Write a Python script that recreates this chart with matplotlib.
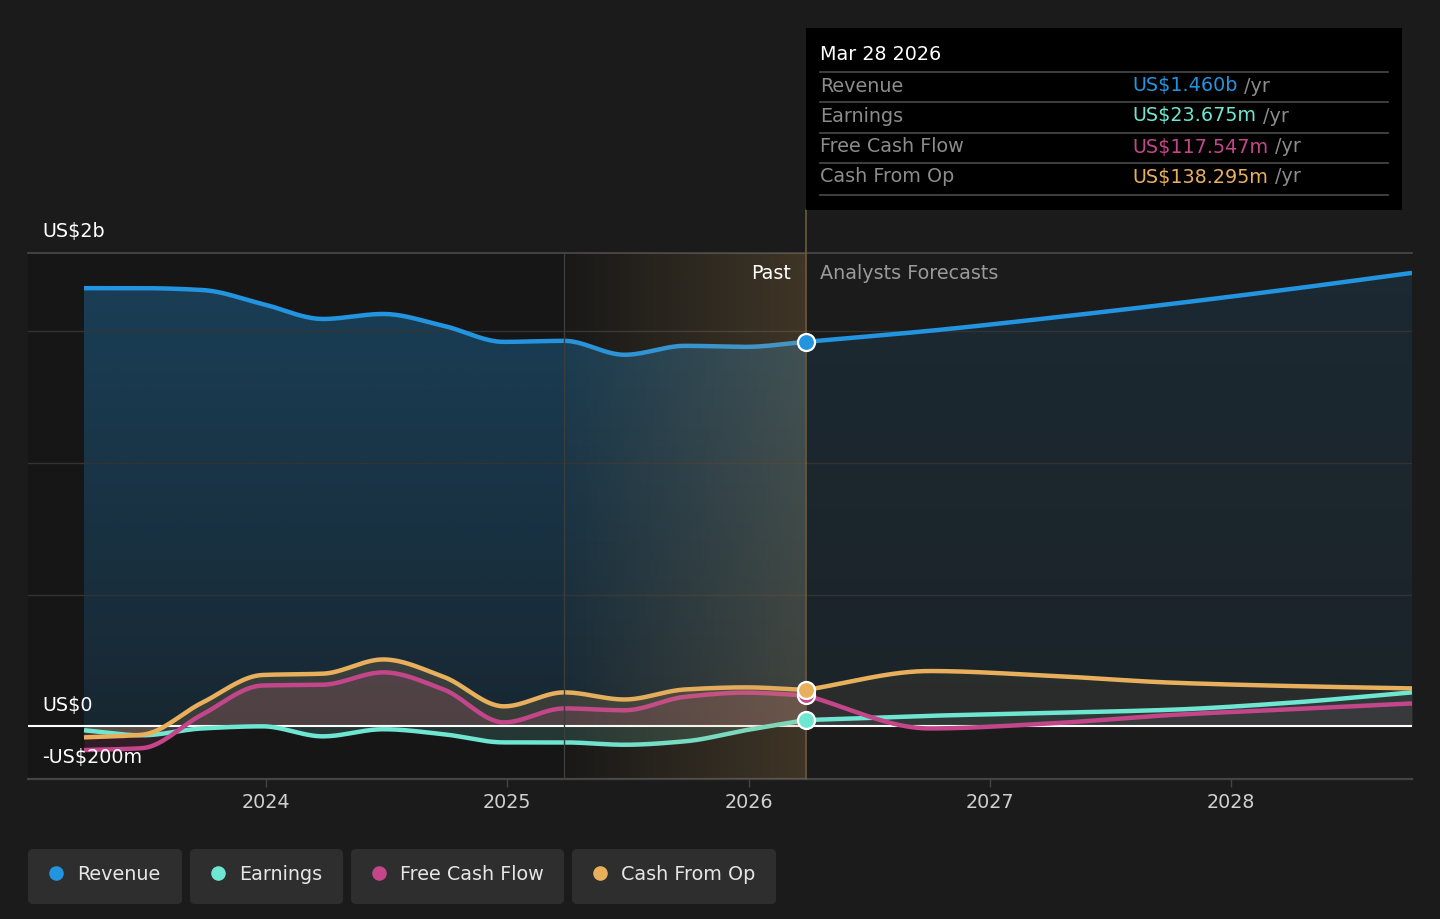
import matplotlib
matplotlib.use("Agg")
import matplotlib.pyplot as plt
import numpy as np
from matplotlib.patches import FancyBboxPatch, Rectangle

# ---- data (values in US$ billions, time in fractional years) ----
past_t = [2023.246, 2023.486, 2023.736, 2023.986, 2024.236, 2024.486, 2024.736,
          2024.986, 2025.236, 2025.486, 2025.736, 2025.986, 2026.236]
fc_t = [2026.236, 2026.75, 2027.25, 2027.75, 2028.25, 2028.749]

revenue_past = [1.664, 1.664, 1.657, 1.604, 1.547, 1.566, 1.521,
                1.460, 1.464, 1.411, 1.445, 1.441, 1.460]
revenue_fc = [1.460, 1.502, 1.551, 1.604, 1.661, 1.722]

earnings_past = [-0.015, -0.034, -0.008, 0.000, -0.038, -0.011, -0.030,
                 -0.061, -0.061, -0.070, -0.057, -0.015, 0.0237]
earnings_fc = [0.0237, 0.040, 0.051, 0.063, 0.090, 0.129]

fcf_past = [-0.090, -0.083, 0.045, 0.155, 0.158, 0.205, 0.140,
            0.015, 0.068, 0.061, 0.112, 0.128, 0.1175]
fcf_fc = [0.1175, -0.008, 0.011, 0.043, 0.065, 0.087]

cfo_past = [-0.042, -0.032, 0.090, 0.195, 0.200, 0.254, 0.188,
            0.076, 0.129, 0.102, 0.140, 0.148, 0.1383]
cfo_fc = [0.1383, 0.210, 0.192, 0.166, 0.153, 0.144]

now = 2026.236
highlight_start = 2025.236
year_ticks = [2024, 2025, 2026, 2027, 2028]

names = ["Revenue", "Earnings", "Free Cash Flow", "Cash From Op"]
colors = ["#2394df", "#6ee6d2", "#c4468a", "#e8b05c"]
tip_values = ["US$1.460b", "US$23.675m", "US$117.547m", "US$138.295m"]

BG = "#1b1b1b"
PAST_BG = "#161616"
FS = 13.8


def monotone(x, y, n=400):
    # monotone cubic (Fritsch-Carlson) for smooth drawing
    x = np.asarray(x, float)
    y = np.asarray(y, float)
    h = np.diff(x)
    d = np.diff(y) / h
    m = np.zeros_like(y)
    m[0], m[-1] = d[0], d[-1]
    for i in range(1, len(y) - 1):
        if d[i - 1] * d[i] <= 0:
            m[i] = 0
        else:
            w1 = 2 * h[i] + h[i - 1]
            w2 = h[i] + 2 * h[i - 1]
            m[i] = (w1 + w2) / (w1 / d[i - 1] + w2 / d[i])
    xs = np.linspace(x[0], x[-1], n)
    idx = np.clip(np.searchsorted(x, xs) - 1, 0, len(h) - 1)
    t = (xs - x[idx]) / h[idx]
    h00 = 2 * t**3 - 3 * t**2 + 1
    h10 = t**3 - 2 * t**2 + t
    h01 = -2 * t**3 + 3 * t**2
    h11 = t**3 - t**2
    ys = (h00 * y[idx] + h10 * h[idx] * m[idx] + h01 * y[idx + 1]
          + h11 * h[idx] * m[idx + 1])
    return xs, ys


def gradient_fill(ax, xs, ys, color, a_top, a_bot, zorder):
    poly = ax.fill_between(xs, ys, 0, facecolor="none", edgecolor="none")
    rgb = matplotlib.colors.to_rgb(color)
    img = np.zeros((256, 1, 4))
    img[..., :3] = rgb
    img[..., 3] = np.linspace(a_top, a_bot, 256)[:, None]
    im = ax.imshow(img, extent=[xs.min(), xs.max(), 0, ys.max()],
                   aspect="auto", zorder=zorder, origin="upper")
    im.set_clip_path(poly.get_paths()[0], transform=ax.transData)


fig = plt.figure(figsize=(14.4, 9.19), dpi=100, facecolor=BG)
ax = fig.add_axes([28 / 1440, 140 / 919, 1384 / 1440, 526 / 919])
ax.set_facecolor(BG)

xmin, xmax = 2023.014, 2028.749
ymin, ymax = -0.2, 1.7975

ax.axvspan(xmin, now, color=PAST_BG, zorder=0, lw=0)

series = [(revenue_past, revenue_fc), (earnings_past, earnings_fc),
          (fcf_past, fcf_fc), (cfo_past, cfo_fc)]

for k, (p, f) in enumerate(series):
    c = colors[k]
    px, py = monotone(past_t, p)
    fx, fy = monotone(fc_t, f)
    if k == 0:
        gradient_fill(ax, px, py, c, 0.32, 0.14, 1)
        gradient_fill(ax, fx, fy, c, 0.12, 0.07, 1)
    else:
        ax.fill_between(px, py, 0, color=c, alpha=0.16, lw=0, zorder=1.2)
        ax.fill_between(fx, fy, 0, color=c, alpha=0.07, lw=0, zorder=1.2)
    ax.plot(np.r_[px, fx[1:]], np.r_[py, fy[1:]], color=c, lw=3.2,
            solid_capstyle="butt", zorder=3 + k * 0.1)

# grid lines
for g in [0.5, 1.0, 1.5]:
    ax.axhline(g, color="#333333", lw=1, zorder=1.5)
ax.axhline(ymax, color="#4a4a4a", lw=1.2, zorder=1.5, clip_on=False)
ax.axhline(0, color="white", lw=1.5, zorder=2.5)

# highlighted last year of past
grad = np.zeros((1, 256, 4))
grad[..., :3] = matplotlib.colors.to_rgb("#c29a5c")
grad[..., 3] = np.linspace(0.02, 0.24, 256)
ax.imshow(grad, extent=[highlight_start, now, ymin, ymax], aspect="auto",
          zorder=4, interpolation="bicubic")
ax.axvline(highlight_start, color="#3c3c3c", lw=1, zorder=4)
ax.axvline(now, ymin=0, ymax=(779 - 210) / 526, color="#6b5a3c", lw=1.2,
           zorder=4, clip_on=False)

# markers at "now"
marker_vals = [revenue_fc[0], earnings_fc[0], fcf_fc[0], cfo_fc[0]]
for k in [0, 1, 2, 3]:
    ax.scatter([now], [marker_vals[k]], s=150, color=colors[k],
               edgecolor="white", linewidth=1.6, zorder=6)

ax.set_xlim(xmin, xmax)
ax.set_ylim(ymin, ymax)
for s in ["top", "left", "right"]:
    ax.spines[s].set_visible(False)
ax.spines["bottom"].set_color("#444444")
ax.spines["bottom"].set_linewidth(1.6)
ax.set_yticks([])
ax.set_xticks(year_ticks)
ax.set_xticklabels([str(y) for y in year_ticks])
ax.tick_params(axis="x", colors="#444444", labelcolor="#d0d0d0",
               length=6, width=1, labelsize=FS, pad=4)

# y labels
for val, lab in [(ymax, "US$2b"), (0, "US$0"), (ymin, "-US$200m")]:
    ax.annotate(lab, xy=(0.0101, val), xycoords=("axes fraction", "data"),
                xytext=(0, 21), textcoords="offset pixels", va="center",
                ha="left", color="white", fontsize=FS, zorder=7)

ax.annotate("Past", xy=(now, ymax), xytext=(-15, -21),
            textcoords="offset pixels", ha="right", va="center",
            color="white", fontsize=FS, zorder=7)
ax.annotate("Analysts Forecasts", xy=(now, ymax), xytext=(14, -21),
            textcoords="offset pixels", ha="left", va="center",
            color="#9a9a9a", fontsize=FS, zorder=7)

# overlay in pixel coordinates for tooltip and legend
ov = fig.add_axes([0, 0, 1, 1], zorder=10)
ov.set_xlim(0, 1440)
ov.set_ylim(919, 0)
ov.axis("off")
ov.patch.set_visible(False)

ov.add_patch(Rectangle((806, 28), 596, 182, facecolor="black", lw=0))
ov.text(820, 55, "Mar 28 2026", color="white", fontsize=FS, va="center")
for yy in [72, 102, 133, 163, 195]:
    ov.plot([820, 1388], [yy, yy], color="#4a4a4a", lw=1.2)
renderer = fig.canvas.get_renderer()
row_y = [86, 116, 147, 177]
for k in range(4):
    ov.text(820, row_y[k], names[k], color="#8c8c8c", fontsize=FS,
            va="center")
    t = ov.text(1132, row_y[k], tip_values[k], color=colors[k],
                fontsize=FS, va="center")
    bb = t.get_window_extent(renderer)
    ov.text(bb.x1 + 7, row_y[k], "/yr", color="#8c8c8c", fontsize=FS,
            va="center")

# legend pills
pills = [(28, 154), (190, 153), (351, 213), (572, 204)]
for k, (x0, w) in enumerate(pills):
    ov.add_patch(FancyBboxPatch((x0 + 5, 854), w - 10, 45,
                                boxstyle="round,pad=5", facecolor="#2e2e2e",
                                edgecolor="none"))
    ov.scatter([x0 + 28], [873], s=110, color=colors[k], lw=0)
    ov.text(x0 + 49, 874, names[k], color="#e6e6e6", fontsize=FS,
            va="center")

fig.savefig("out.png", dpi=100, facecolor=BG)
